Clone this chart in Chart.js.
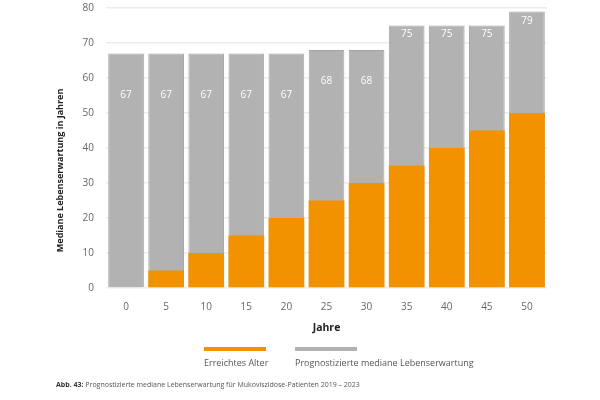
<!DOCTYPE html>
<html lang="de">
<head>
<meta charset="utf-8">
<script src="https://cdn.jsdelivr.net/npm/chart.js@4/dist/chart.umd.min.js"></script>
<style>
  html, body { margin: 0; padding: 0; background: #fff; }
  #wrap { position: relative; width: 600px; height: 400px; font-family: "Open Sans", sans-serif; }
  #wrap canvas { position: absolute; left: 0; top: 0; }
  .leg { position: absolute; top: 347px; color: #555; font-size: 9px; }
  .leg .swatch { width: 62px; height: 4px; margin-bottom: 5px; }
  #caption { position: absolute; left: 56px; top: 380px; font-size: 7px; color: #555; }
  #caption b { color: #333; }
</style>
</head>
<body>
<div id="wrap">
  <canvas id="barChart" width="600" height="400"></canvas>
  <div class="leg" style="left:204px"><div class="swatch" style="background:#f39200"></div>Erreichtes Alter</div>
  <div class="leg" style="left:295px"><div class="swatch" style="background:#b2b2b2"></div>Prognostizierte mediane Lebenserwartung</div>
  <div id="caption"><b>Abb. 43:</b> Prognostizierte mediane Lebenserwartung für Mukoviszidose-Patienten 2019 – 2023</div>
</div>
<script>
const years = ['0', '5', '10', '15', '20', '25', '30', '35', '40', '45', '50'];
const reachedAge = [0, 5, 10, 15, 20, 25, 30, 35, 40, 45, 50];
const medianExpectancy = [67, 67, 67, 67, 67, 68, 68, 75, 75, 75, 79];
const yTicks = [0, 10, 20, 30, 40, 50, 60, 70, 80];

// labels in the grey bars sit lower on the shorter bars (in years below the top)
const labelDrop = { 67: 12, 68: 9, 75: 2.5, 79: 2.8 };

const valueLabels = {
    id: 'valueLabels',
    afterDatasetsDraw(chart) {
        const c = chart.ctx;
        const meta = chart.getDatasetMeta(1);
        const y = chart.scales.y;
        c.save();
        c.fillStyle = '#fff';
        c.font = '10px "Open Sans", sans-serif';
        c.textAlign = 'center';
        c.textBaseline = 'middle';
        meta.data.forEach((bar, i) => {
            const v = medianExpectancy[i];
            c.fillText(String(v), bar.x, y.getPixelForValue(v - (labelDrop[v] || 3)));
        });
        c.restore();
    }
};

// y-axis title sits a bit below the middle of the plot in the original
const yTitle = {
    id: 'yTitle',
    afterDraw(chart) {
        const c = chart.ctx;
        const a = chart.chartArea;
        c.save();
        c.translate(chart.scales.y.left + 10, a.top + a.height * 0.58);
        c.rotate(-Math.PI / 2);
        c.fillStyle = '#222';
        c.font = 'bold 9px "Open Sans", sans-serif';
        c.textAlign = 'center';
        c.textBaseline = 'middle';
        c.fillText('Mediane Lebenserwartung in Jahren', 0, 0);
        c.restore();
    }
};

window.initCharts = function () {
    const ctx = document.getElementById('barChart');
    if (ctx) {
        new Chart(ctx, {
            type: 'bar',
            data: {
                labels: years,
                datasets: [{
                    label: 'Erreichtes Alter',
                    data: reachedAge,
                    backgroundColor: '#f39200',
                    borderWidth: 0,
                    grouped: false,
                    barPercentage: 0.89,
                    categoryPercentage: 1
                }, {
                    label: 'Prognostizierte mediane Lebenserwartung',
                    data: medianExpectancy,
                    backgroundColor: '#b2b2b2',
                    borderColor: '#a6a6a6',
                    borderWidth: 1,
                    grouped: false,
                    barPercentage: 0.89,
                    categoryPercentage: 1
                }]
            },
            options: {
                responsive: false,
                animation: false,
                layout: { padding: { left: 50, right: 53, top: 8, bottom: 62 } },
                plugins: {
                    legend: { display: false },
                    tooltip: { enabled: false }
                },
                scales: {
                    x: {
                        grid: { display: false },
                        border: { display: false },
                        ticks: { color: '#666', font: { size: 10, family: '"Open Sans", sans-serif' }, padding: 5 },
                        title: {
                            display: true, text: 'Jahre', color: '#222',
                            font: { size: 10.5, weight: 'bold', family: '"Open Sans", sans-serif' },
                            padding: { top: 0, bottom: 4 }
                        },
                        afterFit: s => { s.height = 50; }
                    },
                    y: {
                        min: 0, max: 80,
                        afterBuildTicks: s => { s.ticks = yTicks.map(v => ({ value: v })); },
                        grid: { color: '#ececec', lineWidth: 1.5, drawTicks: false },
                        border: { display: false },
                        ticks: { color: '#666', font: { size: 10, family: '"Open Sans", sans-serif' }, padding: 12 },
                        title: { display: false },
                        afterFit: s => { s.width = 56; s.paddingTop = 0; s.paddingBottom = 0; }
                    }
                }
            },
            plugins: [valueLabels, yTitle]
        });
    }
};
window.initCharts();
</script>
</body>
</html>
